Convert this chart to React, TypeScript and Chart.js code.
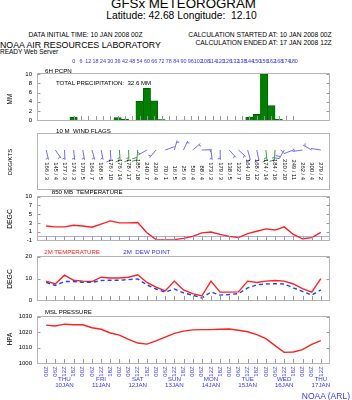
import React, { useEffect, useRef } from 'react';
import { Chart, registerables } from 'chart.js';

Chart.register(...registerables);

const FONT = '"Liberation Sans", Arial, Helvetica, sans-serif';
const AXIS_BLUE = '#3535ff';
const FRAME = '#b4b4b4';
const TICK = '#9a9a9a';

// ---------------- data ----------------
const HOURS = [0, 6, 12, 18, 24, 30, 36, 42, 48, 54, 60, 66, 72, 78, 84, 90, 96, 102, 108, 114, 120, 126, 132, 138, 144, 150, 156, 162, 168, 174, 180];
const TIME_LABELS = [
  '00Z', '06Z', '12Z', '18Z', '00Z', '06Z', '12Z', '18Z', '00Z', '06Z', '12Z', '18Z', '00Z', '06Z', '12Z', '18Z',
  '00Z', '06Z', '12Z', '18Z', '00Z', '06Z', '12Z', '18Z', '00Z', '06Z', '12Z', '18Z', '00Z', '06Z', '12Z',
];
const DAY_HOURS = [12, 36, 60, 84, 108, 132, 156, 180];
const DAY_NAMES = ['THU', 'FRI', 'SAT', 'SUN', 'MON', 'TUE', 'WED', 'THU'];
const DAY_DATES = ['10JAN', '11JAN', '12JAN', '13JAN', '14JAN', '15JAN', '16JAN', '17JAN'];

const PRECIP = [0.7, 0.05, 0, 0, 0, 0, 0.6, 0.3, 0, 4.1, 6.9, 4.2, 0.2, 0, 0, 0.05, 0, 0, 0, 0, 0, 0, 0, 0, 0.7, 1.3, 10, 3.2, 0.3, 0, 0];
const PCPN_TICKS = [0, 2, 4, 6, 8, 10];

const WIND_DIR = [166, 145, 177, 174, 170, 164, 168, 176, 176, 178, 185, 240, 220, 70, 16, 25, 50, 88, 173, 179, 138, 132, 164, 168, 174, 184, 210, 249, 262, 300, 279];
const WIND_SPD = [3, 4, 3, 3, 5, 7, 5, 10, 14, 17, 18, 7, 4, 1, 5, 6, 4, 4, 3, 3, 5, 7, 10, 12, 14, 16, 20, 11, 4, 4, 2];

const T850 = [2.6, 2.4, 2.4, 2.8, 2.6, 2.3, 3.1, 3.9, 3.4, 3.4, 3.5, 0.9, -0.8, -0.9, -0.8, -0.5, 0.0, 0.9, 1.1, 0.5, 0.0, -0.3, 0.7, 1.3, 1.9, 1.6, 2.4, 0.5, -0.6, -0.3, 1.0];
const T850_TICKS = [-1, 1.2, 3.4, 5.6, 7.8, 10];

const T2M = [8.8, 7.5, 11.5, 9.2, 8.8, 8.6, 10.6, 10.2, 10.2, 10.6, 11.7, 8.2, 6.1, 4.3, 8.8, 4.8, 3.1, 2.0, 8.8, 3.8, 3.8, 3.9, 8.8, 8.2, 8.8, 9.1, 8.8, 7.5, 5.4, 3.8, 9.9];
const TD2M = [8.2, 6.8, 8.6, 8.6, 8.3, 8.2, 9.1, 9.2, 9.2, 9.5, 9.8, 7.1, 5.2, 3.8, 5.2, 3.4, 2.4, 1.1, 3.8, 2.4, 2.7, 3.1, 5.7, 7.1, 7.5, 7.6, 7.5, 5.7, 4.1, 2.4, 4.8];
const T2M_TICKS = [0, 10, 20];

const MSLP = [1024.5, 1023.9, 1025.1, 1024.7, 1024.7, 1022.8, 1021.8, 1019.4, 1018.0, 1015.3, 1012.9, 1012.2, 1014.3, 1016.7, 1019.2, 1020.6, 1021.4, 1021.6, 1021.6, 1021.8, 1022.0, 1021.2, 1020.2, 1018.4, 1015.7, 1011.2, 1006.9, 1007.1, 1008.6, 1012.0, 1014.5];
const MSLP_TICKS = [1000, 1010, 1020, 1030];

const X_MIN = -6;
const X_MAX = 186;

// ---------------- helpers ----------------
const pts = (vals: number[]) => HOURS.map((h, i) => ({ x: h, y: vals[i] }));

function framePlugin(yTicks: number[] | null, bottomTicks: boolean, zeroLine = false) {
  return {
    id: 'frame',
    beforeDatasetsDraw(chart: any) {
      if (!zeroLine) return;
      const { ctx, chartArea, scales } = chart;
      const y = Math.round(scales.y.getPixelForValue(0)) + 0.5;
      ctx.save();
      ctx.strokeStyle = '#a8a8ff';
      ctx.lineWidth = 1;
      ctx.beginPath();
      ctx.moveTo(chartArea.left, y);
      ctx.lineTo(chartArea.right, y);
      ctx.stroke();
      ctx.restore();
    },
    afterDatasetsDraw(chart: any) {
      const { ctx, chartArea, scales } = chart;
      const L = Math.round(chartArea.left) + 0.5;
      const R = Math.round(chartArea.right) - 0.5;
      const T = Math.round(chartArea.top) - 0.5;
      const B = Math.round(chartArea.bottom) + 0.5;
      ctx.save();
      ctx.lineWidth = 1;
      ctx.strokeStyle = TICK;
      ctx.beginPath();
      if (bottomTicks) {
        HOURS.forEach((h) => {
          const x = Math.round(scales.x.getPixelForValue(h)) + 0.5;
          ctx.moveTo(x, B);
          ctx.lineTo(x, B - 4.5);
        });
      }
      if (yTicks) {
        yTicks.forEach((v) => {
          const y = Math.round(scales.y.getPixelForValue(v)) + 0.5;
          ctx.moveTo(L, y);
          ctx.lineTo(L + 3, y);
          ctx.moveTo(R, y);
          ctx.lineTo(R - 3, y);
        });
      }
      ctx.stroke();
      ctx.strokeStyle = FRAME;
      ctx.strokeRect(L, T, R - L, B - T);
      ctx.restore();
    },
  };
}

function yAxis(min: number, max: number, ticks: number[], fmt?: (v: number) => string) {
  return {
    type: 'linear',
    min,
    max,
    afterFit: (s: any) => {
      s.width = 37;
    },
    afterBuildTicks: (s: any) => {
      s.ticks = ticks.map((v) => ({ value: v }));
    },
    ticks: {
      autoSkip: false,
      font: { family: FONT, size: 6 },
      color: '#000',
      padding: 5,
      callback: (v: any) => (fmt ? fmt(Number(v)) : String(v)),
    },
    grid: { display: false, drawTicks: false },
    border: { display: false },
  };
}

function baseOptions(padTop: number, padBottom: number, y: any | null) {
  return {
    responsive: false,
    maintainAspectRatio: false,
    animation: false,
    devicePixelRatio: 1,
    events: [],
    layout: { padding: { left: y ? 0 : 37, right: 22, top: padTop, bottom: padBottom } },
    plugins: { legend: { display: false }, tooltip: { enabled: false }, title: { display: false } },
    scales: {
      x: { type: 'linear', min: X_MIN, max: X_MAX, display: false },
      y: y ?? { type: 'linear', min: 0, max: 1, display: false },
    },
  };
}

const lineDs = (vals: number[], color: string, dash: number[] = []) => ({
  data: pts(vals),
  borderColor: color,
  borderWidth: 1.4,
  borderDash: dash,
  pointRadius: 0,
  tension: 0,
  fill: false,
});

// ---------------- plugins ----------------
const topHoursPlugin = {
  id: 'topHours',
  afterDraw(chart: any) {
    const { ctx, chartArea, scales } = chart;
    ctx.save();
    ctx.fillStyle = AXIS_BLUE;
    ctx.font = `5.4px ${FONT}`;
    ctx.textAlign = 'center';
    ctx.textBaseline = 'middle';
    HOURS.forEach((h) => {
      ctx.fillText(String(h), scales.x.getPixelForValue(h), chartArea.top - 12.5);
    });
    ctx.restore();
  },
};

const windPlugin = {
  id: 'wind',
  afterDatasetsDraw(chart: any) {
    const { ctx, chartArea, scales } = chart;
    const baseY = chartArea.top + 16;
    const labelEnd = chartArea.top + 46;
    ctx.save();
    ctx.lineWidth = 1;
    HOURS.forEach((h, i) => {
      const bx = scales.x.getPixelForValue(h);
      const spd = WIND_SPD[i];
      const rad = (WIND_DIR[i] * Math.PI) / 180;
      const ux = Math.sin(rad);
      const uy = -Math.cos(rad);
      const px = -uy;
      const py = ux;
      const len = 10;
      const tipX = bx + ux * len;
      const tipY = baseY + uy * len;
      ctx.strokeStyle = spd >= 13 && spd < 20 ? '#3f9a3f' : '#6c6cff';
      ctx.beginPath();
      ctx.moveTo(bx, baseY);
      ctx.lineTo(tipX, tipY);
      const r = Math.round(spd / 5) * 5;
      const nFull = Math.floor(r / 10);
      const half = r % 10 === 5;
      let d = 0;
      for (let k = 0; k < nFull; k++) {
        const sx = tipX - ux * d;
        const sy = tipY - uy * d;
        ctx.moveTo(sx, sy);
        ctx.lineTo(sx + 5 * (0.94 * px + 0.34 * ux), sy + 5 * (0.94 * py + 0.34 * uy));
        d += 2.5;
      }
      if (half) {
        if (nFull === 0) d = 2;
        const sx = tipX - ux * d;
        const sy = tipY - uy * d;
        ctx.moveTo(sx, sy);
        ctx.lineTo(sx + 2.7 * (0.94 * px + 0.34 * ux), sy + 2.7 * (0.94 * py + 0.34 * uy));
      }
      ctx.stroke();

      ctx.save();
      ctx.translate(bx, labelEnd);
      ctx.rotate(Math.PI / 2);
      ctx.fillStyle = '#000';
      ctx.font = `5.8px ${FONT}`;
      ctx.textAlign = 'right';
      ctx.textBaseline = 'middle';
      ctx.fillText(`${WIND_DIR[i]} / ${spd}`, 0, 0);
      ctx.restore();
    });
    ctx.restore();
  },
};

const timeAxisPlugin = {
  id: 'timeAxis',
  afterDraw(chart: any) {
    const { ctx, chartArea, scales } = chart;
    ctx.save();
    ctx.fillStyle = AXIS_BLUE;
    ctx.font = `6px ${FONT}`;
    HOURS.forEach((h, i) => {
      ctx.save();
      ctx.translate(scales.x.getPixelForValue(h), chartArea.bottom + 3.3);
      ctx.rotate(-Math.PI / 2);
      ctx.textAlign = 'right';
      ctx.textBaseline = 'middle';
      ctx.fillText(TIME_LABELS[i], 0, 0);
      ctx.restore();
    });
    ctx.font = `6.2px ${FONT}`;
    ctx.textAlign = 'center';
    ctx.textBaseline = 'middle';
    DAY_HOURS.forEach((h, i) => {
      const x = scales.x.getPixelForValue(h);
      ctx.fillText(DAY_NAMES[i], x, chartArea.bottom + 16);
      ctx.fillText(DAY_DATES[i], x, chartArea.bottom + 22.3);
    });
    ctx.restore();
  },
};

// ---------------- chart configs ----------------
const P1 = { top: 74, bottom: 123, padTop: 20, padBottom: 6 };
const P2 = { top: 134, bottom: 189, padTop: 4, padBottom: 4 };
const P3 = { top: 194, bottom: 243, padTop: 6, padBottom: 6 };
const P4 = { top: 254, bottom: 303, padTop: 6, padBottom: 6 };
const P5 = { top: 314, bottom: 363, padTop: 6, padBottom: 37 };

const buildPrecip = () => ({
  type: 'bar',
  data: {
    datasets: [
      {
        data: pts(PRECIP),
        backgroundColor: '#008000',
        borderColor: '#005500',
        borderWidth: 0.7,
        barPercentage: 1,
        categoryPercentage: 1,
      },
    ],
  },
  options: baseOptions(P1.padTop, P1.padBottom, yAxis(0, 10, PCPN_TICKS)),
  plugins: [framePlugin(PCPN_TICKS, true), topHoursPlugin],
});

const buildWind = () => ({
  type: 'scatter',
  data: { datasets: [] },
  options: baseOptions(P2.padTop, P2.padBottom, null),
  plugins: [framePlugin(null, false), windPlugin],
});

const build850 = () => ({
  type: 'line',
  data: { datasets: [lineDs(T850, '#ff2020')] },
  options: baseOptions(P3.padTop, P3.padBottom, yAxis(-1, 10, T850_TICKS, (v) => String(Math.trunc(v)))),
  plugins: [framePlugin(T850_TICKS, true, true)],
});

const build2m = () => ({
  type: 'line',
  data: { datasets: [lineDs(TD2M, '#2040ff', [4, 3]), lineDs(T2M, '#ff2020')] },
  options: baseOptions(P4.padTop, P4.padBottom, yAxis(0, 20, T2M_TICKS)),
  plugins: [framePlugin(T2M_TICKS, true)],
});

const buildMslp = () => ({
  type: 'line',
  data: { datasets: [lineDs(MSLP, '#ff2020')] },
  options: baseOptions(P5.padTop, P5.padBottom, yAxis(1000, 1030, MSLP_TICKS)),
  plugins: [framePlugin(MSLP_TICKS, true), timeAxisPlugin],
});

// ---------------- components ----------------
function Panel({ spec, build }: { spec: { top: number; bottom: number; padTop: number; padBottom: number }; build: () => any }) {
  const ref = useRef<HTMLCanvasElement>(null);
  const top = spec.top - spec.padTop;
  const height = spec.bottom - spec.top + spec.padTop + spec.padBottom;
  useEffect(() => {
    const chart = new Chart(ref.current as HTMLCanvasElement, build());
    return () => chart.destroy();
  }, []);
  return (
    <canvas
      ref={ref}
      width={352}
      height={height}
      style={{ position: 'absolute', left: 0, top, width: 352, height, display: 'block' }}
    />
  );
}

function Txt({ x, y, size, text, align = 'left', color = '#000' }: { x: number; y: number; size: number; text: string; align?: string; color?: string }) {
  const tx = align === 'center' ? '-50%' : align === 'right' ? '-100%' : '0';
  return (
    <div
      style={{
        position: 'absolute',
        left: x,
        top: y - size * 0.49,
        font: `${size}px ${FONT}`,
        lineHeight: `${size}px`,
        color,
        whiteSpace: 'pre',
        transform: `translateX(${tx})`,
      }}
    >
      {text}
    </div>
  );
}

function VTxt({ x, y, size, text }: { x: number; y: number; size: number; text: string }) {
  return (
    <div
      style={{
        position: 'absolute',
        left: x,
        top: y,
        font: `${size}px ${FONT}`,
        lineHeight: `${size}px`,
        color: '#000',
        whiteSpace: 'pre',
        transform: 'translate(-50%, -50%) rotate(-90deg)',
      }}
    >
      {text}
    </div>
  );
}

export default function App() {
  return (
    <div style={{ position: 'absolute', left: 0, top: 0, width: 352, height: 400, background: '#fff', overflow: 'hidden' }}>
      <Txt x={183.5} y={3.7} size={13.3} text="GFSx METEOROGRAM" align="center" />
      <Txt x={181.5} y={16.1} size={10.3} text="Latitude: 42.68 Longitude:  12.10" align="center" />
      <Txt x={85.5} y={35.5} size={6.7} text="DATA INITIAL TIME: 10 JAN 2008 00Z" align="center" />
      <Txt x={331.7} y={35.5} size={6.7} text="CALCULATION STARTED AT: 10 JAN 2008 00Z" align="right" />
      <Txt x={331.7} y={42.8} size={6.7} text="CALCULATION ENDED AT: 17 JAN 2008 12Z" align="right" />
      <Txt x={0} y={45.8} size={8.8} text="NOAA AIR RESOURCES LABORATORY" />
      <Txt x={0} y={52.5} size={6.5} text="READY Web Server" />

      <Panel spec={P1} build={buildPrecip} />
      <Panel spec={P2} build={buildWind} />
      <Panel spec={P3} build={build850} />
      <Panel spec={P4} build={build2m} />
      <Panel spec={P5} build={buildMslp} />

      <Txt x={45} y={70.8} size={6.2} text="6H PCPN" />
      <Txt x={56} y={82.7} size={6.1} text="TOTAL PRECIPITATION:  32.6 MM" />
      <Txt x={56} y={130.7} size={6.1} text="10 M  WIND FLAGS" />
      <Txt x={51.7} y={191.7} size={6.2} text="850 MB  TEMPERATURE" />
      <Txt x={44.3} y={251.7} size={6.1} text="2M TEMPERATURE" color="#ff2020" />
      <Txt x={123.3} y={251.7} size={6.2} text="2M  DEW POINT" color="#3030ff" />
      <Txt x={45} y={311.7} size={6} text="MSL PRESSURE" />

      <VTxt x={10} y={98.5} size={6.5} text="MM" />
      <VTxt x={10} y={161.5} size={6} text="DEG/KTS" />
      <VTxt x={10} y={218.5} size={6.8} text="DEGC" />
      <VTxt x={10} y={278.8} size={6.8} text="DEGC" />
      <VTxt x={10} y={338.8} size={6.5} text="HPA" />

      <Txt x={350} y={395.7} size={8.5} text="NOAA (ARL)" align="right" color={AXIS_BLUE} />
    </div>
  );
}
